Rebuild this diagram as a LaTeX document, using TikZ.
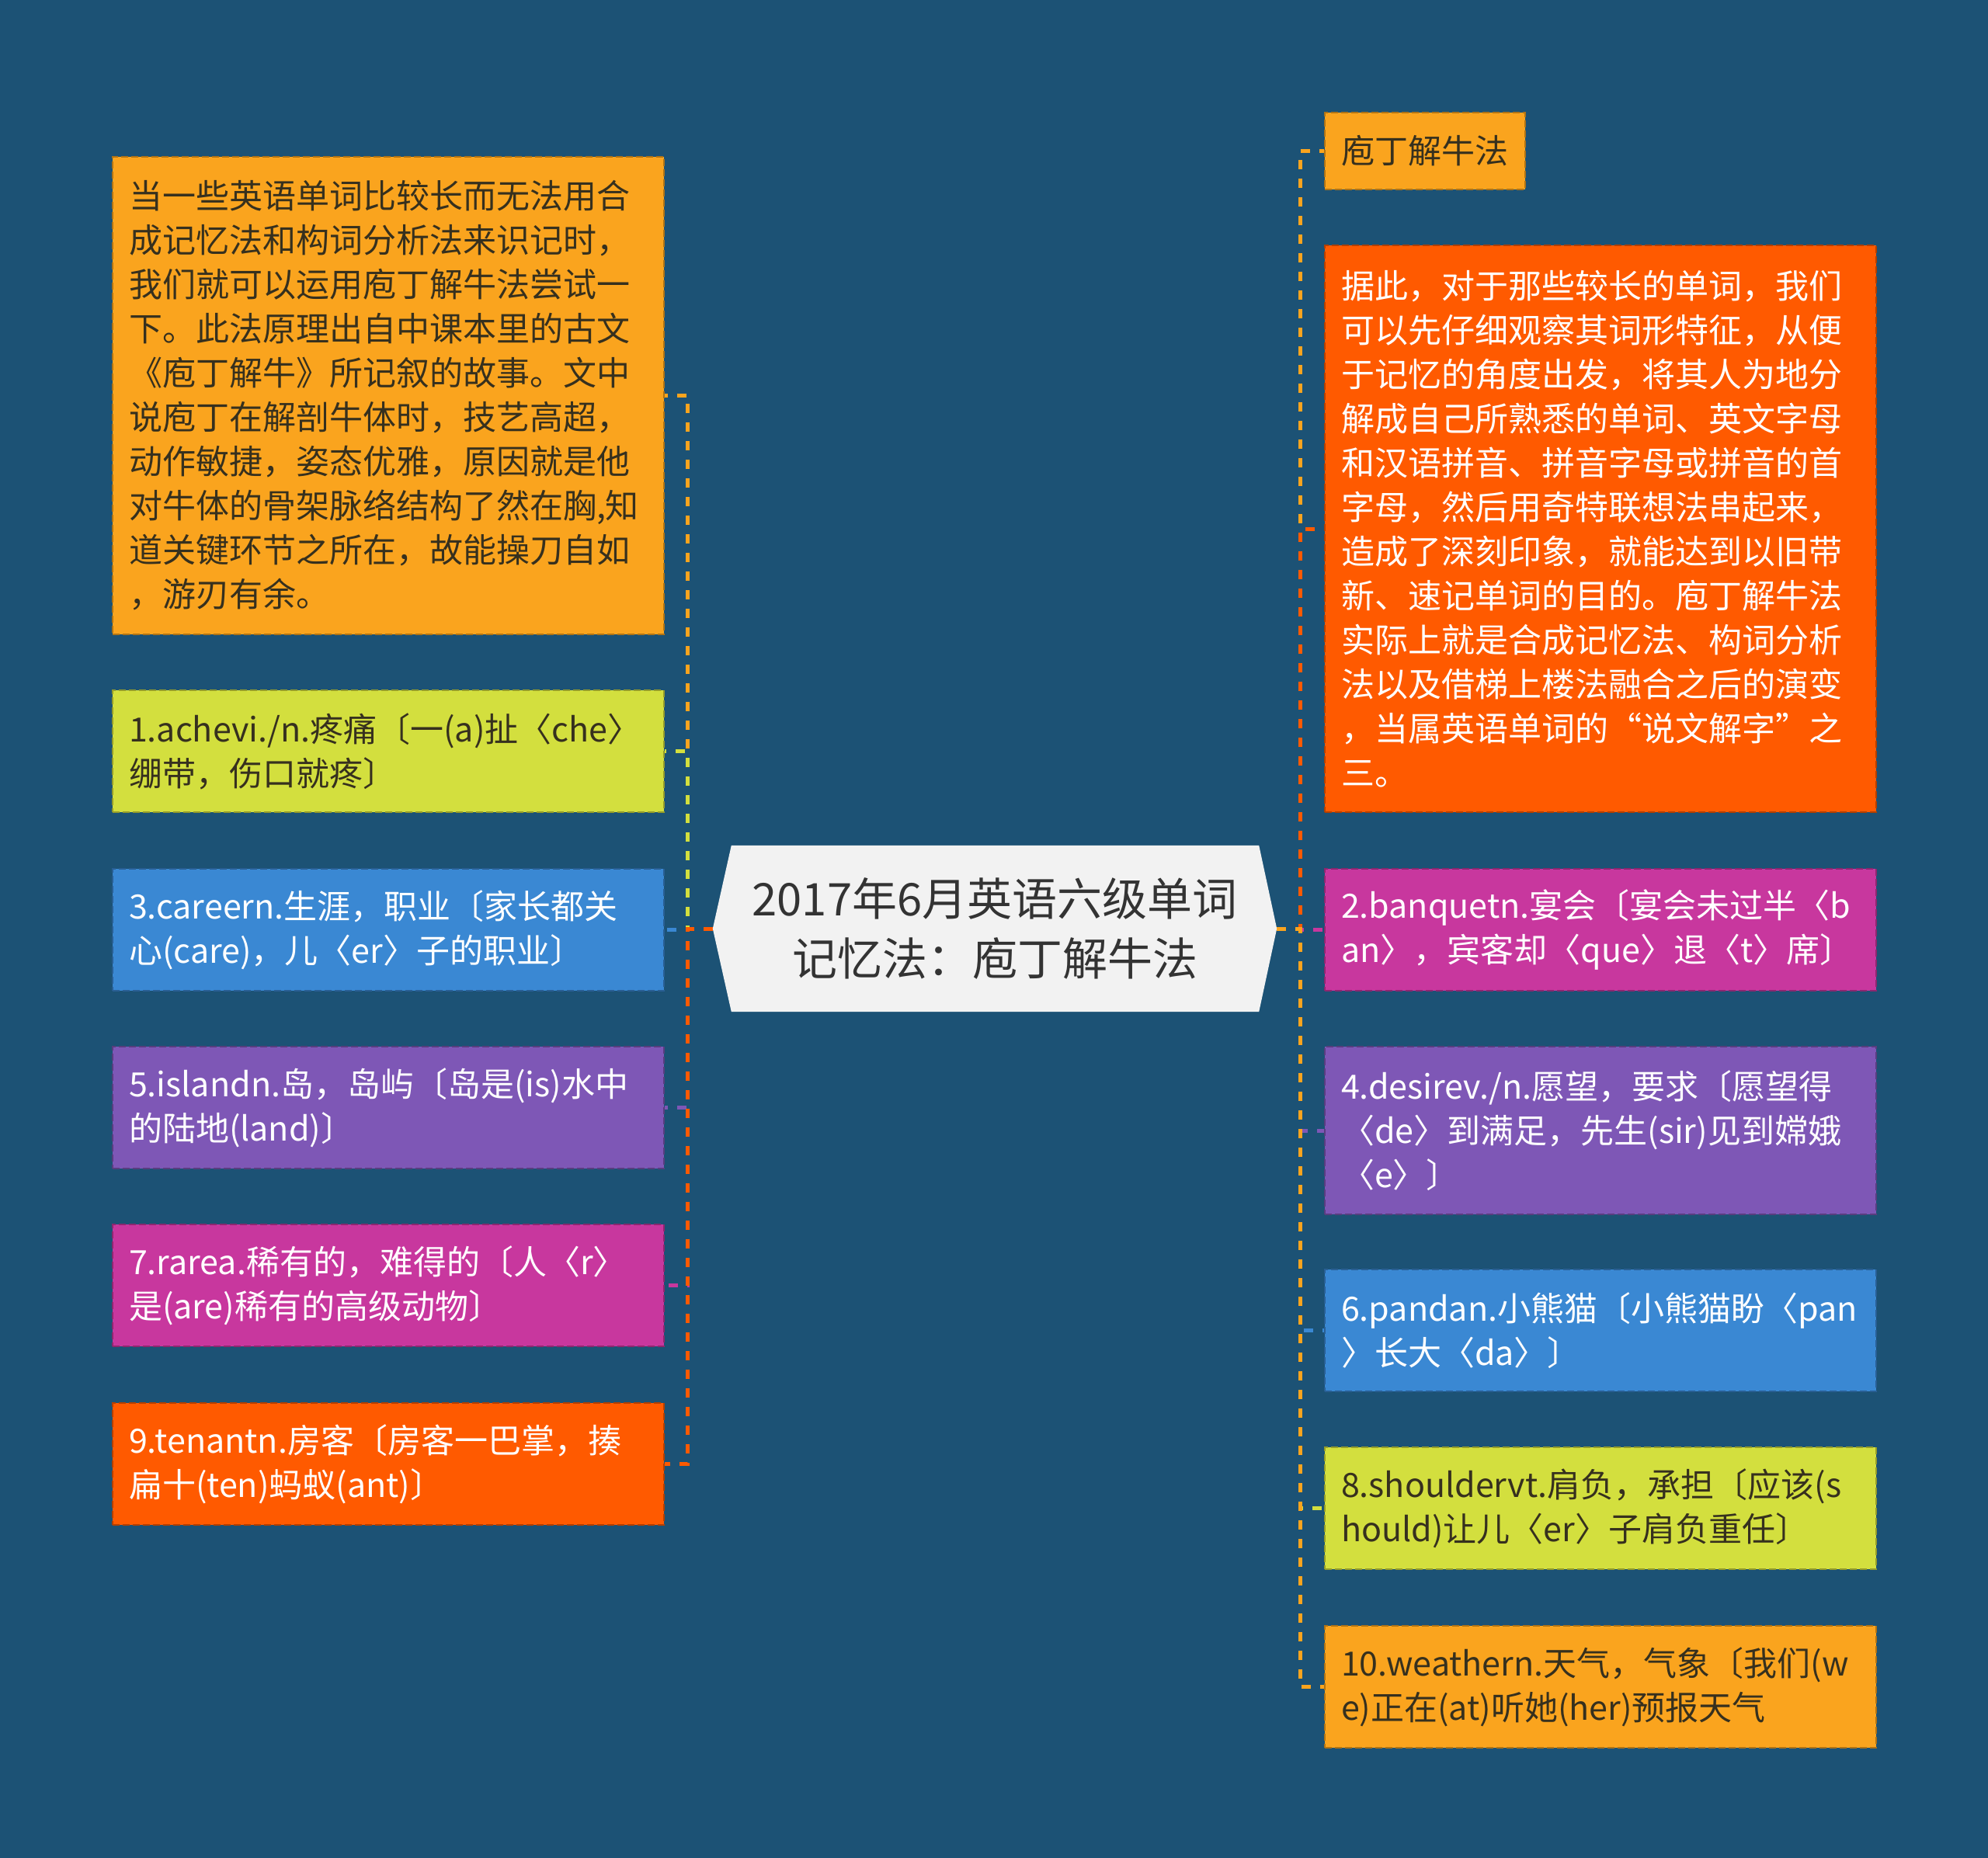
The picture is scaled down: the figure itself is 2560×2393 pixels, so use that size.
\documentclass[tikz,border=0pt]{standalone}
\usepackage{fontspec}
\setmainfont{Noto Sans CJK SC}
\definecolor{bgc}{HTML}{1C5275}
\definecolor{orng}{HTML}{FAA41E}
\definecolor{lime}{HTML}{D3DF3E}
\definecolor{blu}{HTML}{3A88D3}
\definecolor{purp}{HTML}{7E57B6}
\definecolor{mag}{HTML}{C8379E}
\definecolor{ored}{HTML}{FF5A00}
\definecolor{rootfill}{HTML}{F2F2F2}
\definecolor{darktext}{HTML}{36301E}
\definecolor{roottext}{HTML}{333333}
\pgfdeclarelayer{bglayer}
\pgfsetlayers{bglayer,main}
\tikzset{
  leaf/.style 2 args={anchor=north west, fill=#1, draw=#1!70!black, line width=2pt,
    dash pattern=on 9pt off 4pt, text=#2, text width=668pt, minimum width=710pt,
    inner xsep=21pt, inner ysep=0pt, align=left, font=\fontsize{43}{57}\selectfont},
  conn/.style={draw=#1, line width=5pt, dash pattern=on 12pt off 12pt},
}
\begin{document}
\begin{tikzpicture}[x=1pt,y=-1pt]
\node[minimum width=726pt, minimum height=214pt, inner sep=0pt, align=center,
  text=roottext, font=\fontsize{58}{77}\selectfont] (root) at (1281,1196)
  {2017年6月英语六级单词\\记忆法：庖丁解牛法};

% left side
\node[leaf={orng}{darktext}, minimum height=615pt] (L1) at (144,201)
 {当一些英语单词比较长而无法用合\\成记忆法和构词分析法来识记时，\\我们就可以运用庖丁解牛法尝试一\\下。此法原理出自中课本里的古文\\《庖丁解牛》所记叙的故事。文中\\说庖丁在解剖牛体时，技艺高超，\\动作敏捷，姿态优雅，原因就是他\\对牛体的骨架脉络结构了然在胸,知\\道关键环节之所在，故能操刀自如\\，游刃有余。};
\node[leaf={lime}{darktext}, minimum height=157pt] (L2) at (144,888)
 {1.achevi./n.疼痛〔一(a)扯〈che〉\\绷带，伤口就疼〕};
\node[leaf={blu}{white}, minimum height=157pt] (L3) at (144,1118)
 {3.careern.生涯，职业〔家长都关\\心(care)，儿〈er〉子的职业〕};
\node[leaf={purp}{white}, minimum height=157pt] (L4) at (144,1347)
 {5.islandn.岛，岛屿〔岛是(is)水中\\的陆地(land)〕};
\node[leaf={mag}{white}, minimum height=157pt] (L5) at (144,1576)
 {7.rarea.稀有的，难得的〔人〈r〉\\是(are)稀有的高级动物〕};
\node[leaf={ored}{white}, minimum height=157pt] (L6) at (144,1806)
 {9.tenantn.房客〔房客一巴掌，揍\\扁十(ten)蚂蚁(ant)〕};

% right side
\node[leaf={orng}{darktext}, minimum height=99pt, text width=216pt, minimum width=258pt] (R0) at (1705,144)
 {庖丁解牛法};
\node[leaf={ored}{white}, minimum height=730pt] (R1) at (1705,315)
 {据此，对于那些较长的单词，我们\\可以先仔细观察其词形特征，从便\\于记忆的角度出发，将其人为地分\\解成自己所熟悉的单词、英文字母\\和汉语拼音、拼音字母或拼音的首\\字母，然后用奇特联想法串起来，\\造成了深刻印象，就能达到以旧带\\新、速记单词的目的。庖丁解牛法\\实际上就是合成记忆法、构词分析\\法以及借梯上楼法融合之后的演变\\，当属英语单词的“说文解字”之\\三。};
\node[leaf={mag}{white}, minimum height=157pt] (R2) at (1705,1118)
 {2.banquetn.宴会〔宴会未过半〈b\\an〉，宾客却〈que〉退〈t〉席〕};
\node[leaf={purp}{white}, minimum height=216pt] (R3) at (1705,1347)
 {4.desirev./n.愿望，要求〔愿望得\\〈de〉到满足，先生(sir)见到嫦娥\\〈e〉〕};
\node[leaf={blu}{white}, minimum height=157pt] (R4) at (1705,1634)
 {6.pandan.小熊猫〔小熊猫盼〈pan\\〉长大〈da〉〕};
\node[leaf={lime}{darktext}, minimum height=157pt] (R5) at (1705,1863)
 {8.shouldervt.肩负，承担〔应该(s\\hould)让儿〈er〉子肩负重任〕};
\node[leaf={orng}{darktext}, minimum height=157pt] (R6) at (1705,2093)
 {10.weathern.天气，气象〔我们(w\\e)正在(at)听她(her)预报天气};

\begin{pgfonlayer}{bglayer}
  \fill[bgc] (0,0) rectangle (2560,2393);
  \draw[conn=orng] (root.west) -- ++(-32,0) |- (L1.east);
  \draw[conn=lime] (root.west) -- ++(-32,0) |- (L2.east);
  \draw[conn=blu]  (root.west) -- ++(-32,0) |- (L3.east);
  \draw[conn=purp] (root.west) -- ++(-32,0) |- (L4.east);
  \draw[conn=mag]  (root.west) -- ++(-32,0) |- (L5.east);
  \draw[conn=ored] (root.west) -- ++(-32,0) |- (L6.east);
  \draw[conn=orng] (root.east) -- ++(30,0) |- (R0.west);
  \draw[conn=ored] (root.east) -- ++(30,0) |- (R1.west);
  \draw[conn=mag]  (root.east) -- ++(30,0) |- (R2.west);
  \draw[conn=purp] (root.east) -- ++(30,0) |- (R3.west);
  \draw[conn=blu]  (root.east) -- ++(30,0) |- (R4.west);
  \draw[conn=lime] (root.east) -- ++(30,0) |- (R5.west);
  \draw[conn=orng] (root.east) -- ++(30,0) |- (R6.west);
  \fill[rootfill] (root.west) -- ([xshift=24pt]root.north west) -- ([xshift=-23pt]root.north east)
    -- (root.east) -- ([xshift=-23pt]root.south east) -- ([xshift=24pt]root.south west) -- cycle;
\end{pgfonlayer}
\end{tikzpicture}
\end{document}
